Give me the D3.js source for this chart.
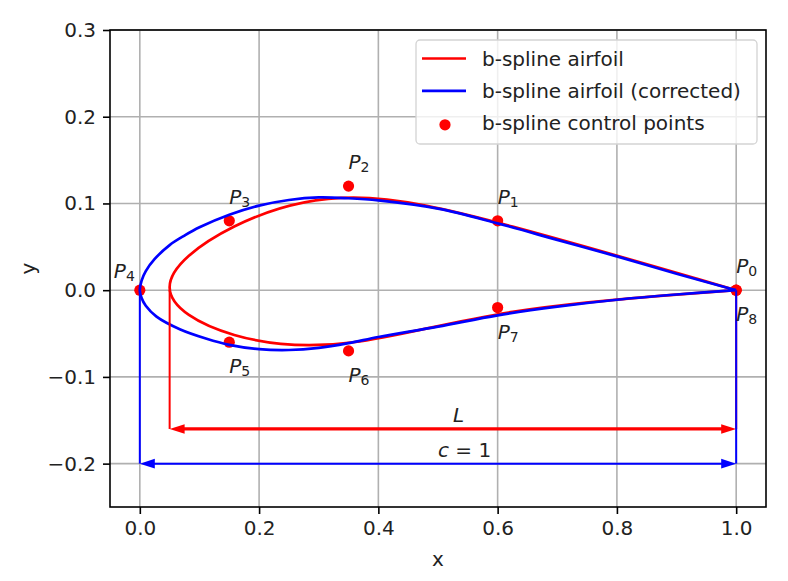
<!DOCTYPE html>
<html>
<head>
<meta charset="utf-8">
<script src="https://cdn.jsdelivr.net/npm/d3@7"></script>
<style>
  body { margin: 0; background: #fff; }
  svg text { font-family: "DejaVu Sans", sans-serif; fill: #222; }
</style>
</head>
<body>
<svg id="chart" width="788" height="581"></svg>
<script>
// b-spline control points P0 ... P8
const ctrlNames = ["0", "1", "2", "3", "4", "5", "6", "7", "8"];
const ctrlX = [1.0, 0.6, 0.35, 0.15, 0.0, 0.15, 0.35, 0.6, 1.0];
const ctrlY = [0.0, 0.08, 0.12, 0.08, 0.0, -0.06, -0.07, -0.02, 0.0];

// corrected airfoil (TE -> upper -> LE -> lower -> TE)
const corrX = [1.0, 0.9, 0.8, 0.7, 0.6, 0.5, 0.4, 0.35, 0.3, 0.25, 0.2, 0.15, 0.1, 0.075, 0.05, 0.025, 0.01, 0.003, 0.0,
               0.003, 0.01, 0.028, 0.067, 0.112, 0.15, 0.2, 0.25, 0.3, 0.35, 0.4, 0.5, 0.6, 0.7, 0.8, 0.9, 1.0];
const corrY = [0.0, 0.019, 0.039, 0.058, 0.077, 0.094, 0.1035, 0.106, 0.107, 0.104, 0.0975, 0.087, 0.0725, 0.063, 0.052, 0.036, 0.022, 0.011, 0.0,
               -0.009, -0.018, -0.0305, -0.045, -0.056, -0.063, -0.068, -0.069, -0.0665, -0.061, -0.054, -0.042, -0.029, -0.019, -0.011, -0.005, 0.0];

// chord annotations
const lengthL = [0.05, 1.0];
const lengthC = [0.0, 1.0];
const arrowLevels = [-0.16, -0.2];

const xTicks = [0, 0.2, 0.4, 0.6, 0.8, 1.0];
const yTicks = [-0.2, -0.1, 0, 0.1, 0.2, 0.3];
const legendLabels = ["b-spline airfoil", "b-spline airfoil (corrected)", "b-spline control points"];

const svg = d3.select("#chart");
const margin = { top: 30, right: 22, bottom: 74, left: 110 };
const width = +svg.attr("width") - margin.left - margin.right;
const height = +svg.attr("height") - margin.top - margin.bottom;

const x = d3.scaleLinear().domain([-0.05, 1.05]).range([0, width]);
const y = d3.scaleLinear().domain([-0.25, 0.3]).range([height, 0]);

const g = svg.append("g").attr("transform", `translate(${margin.left},${margin.top})`);

// grid
g.selectAll(".gx").data(xTicks).join("line")
    .attr("x1", d => x(d)).attr("x2", d => x(d))
    .attr("y1", 0).attr("y2", height)
    .attr("stroke", "#b0b0b0").attr("stroke-width", 1.6);
g.selectAll(".gy").data(yTicks).join("line")
    .attr("x1", 0).attr("x2", width)
    .attr("y1", d => y(d)).attr("y2", d => y(d))
    .attr("stroke", "#b0b0b0").attr("stroke-width", 1.6);

const ctrl = ctrlX.map((v, i) => ({ x: v, y: ctrlY[i], name: ctrlNames[i] }));
const corr = corrX.map((v, i) => ({ x: v, y: corrY[i] }));

// control points
g.selectAll(".dot").data(ctrl).join("circle")
    .attr("class", "dot")
    .attr("cx", d => x(d.x)).attr("cy", d => y(d.y))
    .attr("r", 5.6).attr("fill", "#ff0000");

// red: uniform cubic b-spline through the control polygon
const splineLine = d3.line().x(d => x(d.x)).y(d => y(d.y)).curve(d3.curveBasis);
g.append("path").datum(ctrl)
    .attr("d", splineLine)
    .attr("fill", "none").attr("stroke", "#ff0000").attr("stroke-width", 2.7);

// blue: corrected airfoil
const corrLine = d3.line().x(d => x(d.x)).y(d => y(d.y)).curve(d3.curveCatmullRom);
g.append("path").datum(corr)
    .attr("d", corrLine)
    .attr("fill", "none").attr("stroke", "#0000ff").attr("stroke-width", 2.7);

function arrow(x0, x1, yv, color, lw) {
    const px0 = x(x0), px1 = x(x1), py = y(yv);
    const hl = 15, hw = 4.8;
    g.append("line")
        .attr("x1", px0 + hl - 1).attr("x2", px1 - hl + 1)
        .attr("y1", py).attr("y2", py)
        .attr("stroke", color).attr("stroke-width", lw);
    g.append("path")
        .attr("d", `M${px0},${py}L${px0 + hl},${py - hw}L${px0 + hl},${py + hw}Z`)
        .attr("fill", color);
    g.append("path")
        .attr("d", `M${px1},${py}L${px1 - hl},${py - hw}L${px1 - hl},${py + hw}Z`)
        .attr("fill", color);
}

function vline(xv, y0, y1, color) {
    g.append("line")
        .attr("x1", x(xv)).attr("x2", x(xv))
        .attr("y1", y(y0)).attr("y2", y(y1))
        .attr("stroke", color).attr("stroke-width", 2);
}

// L dimension (red)
vline(lengthL[0], 0, arrowLevels[0], "#ff0000");
vline(lengthL[1], 0, arrowLevels[0], "#ff0000");
arrow(lengthL[0], lengthL[1], arrowLevels[0], "#ff0000", 3.2);
// chord c = 1 (blue)
vline(lengthC[0], 0, arrowLevels[1], "#0000ff");
vline(lengthC[1], 0, arrowLevels[1], "#0000ff");
arrow(lengthC[0], lengthC[1], arrowLevels[1], "#0000ff", 2);

g.append("text")
    .attr("x", x((lengthL[0] + lengthL[1]) / 2)).attr("y", y(arrowLevels[0]) - 7)
    .attr("font-size", 20).attr("font-style", "italic")
    .text("L");
const cText = g.append("text")
    .attr("x", x((lengthC[0] + lengthC[1]) / 2)).attr("y", y(arrowLevels[1]) - 6.5)
    .attr("font-size", 20);
cText.append("tspan").attr("font-style", "italic").text("c");
cText.append("tspan").text(" = 1");

// control point labels
const labelPos = { above: [0, -17], below: [0, 31], left: [-5, -12] };
const labelSide = d => d.name === "4" ? "left" : (+d.name <= 3 ? "above" : "below");
ctrl.forEach(d => {
    const off = labelPos[labelSide(d)];
    const t = g.append("text")
        .attr("x", x(d.x) + off[0]).attr("y", y(d.y) + off[1])
        .attr("font-size", 20)
        .attr("text-anchor", labelSide(d) === "left" ? "end" : "start");
    t.append("tspan").attr("font-style", "italic").text("P");
    t.append("tspan").attr("font-size", 14).attr("dy", 3).text(d.name);
});

// axes
const xAxis = d3.axisBottom(x).tickValues(xTicks).tickFormat(d3.format(".1f")).tickSizeOuter(0).tickSize(7).tickPadding(7);
const yAxis = d3.axisLeft(y).tickValues(yTicks).tickFormat(d3.format(".1f")).tickSizeOuter(0).tickSize(7).tickPadding(7);

const xAxisG = g.append("g").attr("transform", `translate(0,${height})`).call(xAxis);
const yAxisG = g.append("g").call(yAxis);
[xAxisG, yAxisG].forEach(a => {
    a.select(".domain").remove();
    a.selectAll(".tick line").attr("stroke", "#000").attr("stroke-width", 1.6);
    a.selectAll(".tick text").attr("font-size", 20).attr("font-family", "DejaVu Sans").attr("fill", "#222");
});

g.append("rect")
    .attr("width", width).attr("height", height)
    .attr("fill", "none").attr("stroke", "#000").attr("stroke-width", 1.6);

svg.append("text")
    .attr("x", margin.left + width / 2).attr("y", 566)
    .attr("text-anchor", "middle").attr("font-size", 20)
    .text("x");
svg.append("text")
    .attr("transform", `translate(35,${margin.top + height / 2}) rotate(-90)`)
    .attr("text-anchor", "middle").attr("font-size", 20)
    .text("y");

// legend
const legend = svg.append("g").attr("transform", "translate(416,40)");
legend.append("rect")
    .attr("width", 341).attr("height", 104).attr("rx", 4)
    .attr("fill", "#fff").attr("fill-opacity", 0.8)
    .attr("stroke", "#d3d3d3").attr("stroke-width", 1.3);
const legendColors = ["#ff0000", "#0000ff", "#ff0000"];
legendLabels.forEach((lab, i) => {
    const ry = 18.5 + i * 32.4;
    if (i < 2) {
        legend.append("line")
            .attr("x1", 6).attr("x2", 50).attr("y1", ry).attr("y2", ry)
            .attr("stroke", legendColors[i]).attr("stroke-width", 2.7);
    } else {
        legend.append("circle").attr("cx", 29).attr("cy", ry + 1.5).attr("r", 5.6).attr("fill", legendColors[i]);
    }
    legend.append("text")
        .attr("x", 66).attr("y", ry + 7)
        .attr("font-size", 20)
        .text(lab);
});
</script>
</body>
</html>
